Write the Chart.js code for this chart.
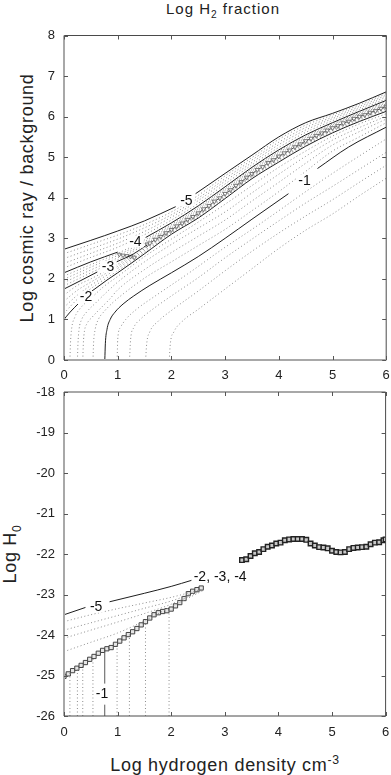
<!DOCTYPE html>
<html>
<head>
<meta charset="utf-8">
<script src="https://cdn.jsdelivr.net/npm/chart.js@4.4.1/dist/chart.umd.min.js"></script>
<style>
  body { margin: 0; background: #fff; width: 391px; height: 775px; position: relative; overflow: hidden;
         font-family: "Liberation Sans", Arial, sans-serif; color: #222; }
  canvas { position: absolute; left: 0; }
  #top { top: 0; }
  #bot { top: 382px; }
  .t { position: absolute; white-space: nowrap; }
  sub, sup { font-size: 68%; line-height: 0; }
  #title { left: 0; width: 446px; top: 0; text-align: center; font-size: 15px; line-height: 18px; letter-spacing: 1px; }
  #xtitle { left: 0; width: 450px; top: 755px; text-align: center; font-size: 18px; line-height: 20px; letter-spacing: 0.7px; }
  .ytitle { font-size: 18px; line-height: 20px; letter-spacing: 0.7px; transform: translate(-50%, -50%) rotate(-90deg); }
  #ytop { left: 27px; top: 198px; }
  #ybot { left: 10px; top: 554px; }
</style>
</head>
<body>
<div class="t" id="title">Log H<sub>2</sub> fraction</div>
<div class="t ytitle" id="ytop">Log cosmic ray / background</div>
<div class="t ytitle" id="ybot">Log H<sub>0</sub></div>
<div class="t" id="xtitle">Log hydrogen density cm<sup>-3</sup></div>
<canvas id="top" width="391" height="382"></canvas>
<canvas id="bot" width="391" height="393"></canvas>
<script>
const FONT = '"Liberation Sans", Arial, Helvetica, sans-serif';

const xRange = [0, 6];
const topYRange = [0, 8];
const botYRange = [-26, -18];

// ---- top panel: contours of log H2 fraction (x = log n, y = log CR) ----
const topM5 = [[0,2.73],[0.5,2.95],[1,3.18],[1.5,3.43],[2.08,3.78],[2.2,null],[2.45,4.1],[3,4.6],[3.5,5.05],[4,5.5],[4.5,5.85],[5,6.08],[5.5,6.33],[6,6.61]];
const topM4 = [[0,2.15],[0.5,2.42],[1.0,2.66],[1.2,null],[1.52,3.02],[2,3.38],[2.5,3.8],[3,4.27],[3.5,4.75],[4,5.18],[4.5,5.55],[5,5.85],[5.5,6.13],[6,6.4]];
const topM3 = [[0,1.75],[0.3,1.95],[0.62,2.17],[0.8,null],[0.98,2.42],[1.3,2.62],[1.55,2.84]];
const topM2 = [[0,1.0],[0.1,1.16],[0.2,1.3],[0.26,1.38],[0.4,null],[0.52,1.7],[0.8,1.97],[1,2.15],[1.5,2.62],[2,3.1],[2.5,3.5],[3,3.98],[3.5,4.47],[4,4.88],[4.5,5.27],[5,5.6],[5.5,5.88],[6,6.13]];
const topM1 = [[0.76,0],[0.77,0.4],[0.8,0.75],[0.86,1.0],[0.95,1.18],[1.1,1.38],[1.3,1.58],[1.6,1.84],[2,2.15],[2.5,2.55],[3,3.0],[3.5,3.47],[4.18,4.1],[4.45,null],[4.72,4.72],[5.3,5.25],[6,5.74]];

const topM08 = [[0.99,0],[1.0,0.5],[1.05,0.8],[1.15,1.0],[1.35,1.25],[1.7,1.58],[2.3,2.12],[3,2.78],[3.5,3.22],[4,3.68],[4.5,4.15],[5,4.6],[5.5,5.03],[6,5.45]];
const topM06 = [[1.22,0],[1.24,0.5],[1.3,0.8],[1.42,1.0],[1.65,1.25],[2,1.58],[2.5,2.03],[3,2.52],[3.5,2.98],[4,3.43],[4.5,3.87],[5,4.28],[5.5,4.7],[6,5.12]];
const topM04 = [[1.52,0],[1.54,0.4],[1.6,0.7],[1.75,0.95],[2,1.22],[2.5,1.7],[3,2.2],[3.5,2.68],[4,3.13],[4.5,3.55],[5,3.95],[5.5,4.38],[6,4.8]];
const topM02 = [[1.96,0],[1.98,0.4],[2.05,0.7],[2.2,0.95],[2.5,1.25],[3,1.75],[3.5,2.25],[4,2.75],[4.5,3.2],[5,3.6],[5.5,4.05],[6,4.48]];

const topM12 = [[0.54,0],[0.55,0.4],[0.58,0.75],[0.64,1.0],[0.75,1.2],[0.88,1.38],[1,1.52],[1.5,2.02],[2,2.42],[2.5,2.82],[3,3.22],[3.5,3.68],[4,4.15],[4.5,4.65],[5,5.15],[5.5,5.5],[6,5.85]];
const topM14 = [[0.35,0],[0.36,0.4],[0.38,0.7],[0.43,0.9],[0.52,1.05],[0.7,1.3],[0.85,1.5],[1,1.73],[1.5,2.23],[2,2.65],[2.5,3.05],[3,3.45],[3.5,3.92],[4,4.38],[4.5,4.85],[5,5.3],[5.5,5.63],[6,5.94]];
const topM16 = [[0.25,0],[0.26,0.4],[0.28,0.75],[0.33,1.0],[0.42,1.18],[0.6,1.42],[0.8,1.68],[1,1.92],[1.5,2.42],[2,2.85],[2.5,3.25],[3,3.65],[3.5,4.12],[4,4.58],[4.5,5.02],[5,5.42],[5.5,5.73],[6,6.01]];
const topM18 = [[0.11,0],[0.12,0.4],[0.14,0.75],[0.2,1.05],[0.3,1.27],[0.5,1.52],[0.75,1.82],[1,2.06],[1.5,2.55],[2,2.98],[2.5,3.4],[3,3.84],[3.5,4.3],[4,4.75],[4.5,5.15],[5,5.52],[5.5,5.82],[6,6.07]];

const topM22 = [[0,1.15],[0.25,1.5],[0.5,1.76],[1,2.2],[1.5,2.66],[2,3.13],[2.5,3.53],[3,4.01],[3.5,4.5],[4,4.91],[4.5,5.3],[5,5.63],[5.5,5.91],[6,6.16]];
const topM24 = [[0,1.3],[0.25,1.6],[0.5,1.84],[1,2.26],[1.5,2.7],[2,3.16],[2.5,3.56],[3,4.04],[3.5,4.53],[4,4.94],[4.5,5.33],[5,5.66],[5.5,5.94],[6,6.19]];
const topM26 = [[0,1.45],[0.25,1.72],[0.5,1.92],[1,2.31],[1.5,2.74],[2,3.18],[2.5,3.58],[3,4.06],[3.5,4.55],[4,4.97],[4.5,5.35],[5,5.68],[5.5,5.96],[6,6.21]];
const topM28 = [[0,1.6],[0.25,1.84],[0.5,2.0],[1,2.36],[1.5,2.77],[2,3.2],[2.5,3.6],[3,4.08],[3.5,4.58],[4,5.0],[4.5,5.37],[5,5.7],[5.5,5.98],[6,6.23]];

const topM32 = [[0,1.83],[0.5,2.15],[1,2.47],[1.5,2.84],[2,3.25],[2.5,3.66],[3,4.14],[3.5,4.63],[4,5.05],[4.5,5.43],[5,5.75],[5.5,6.03],[6,6.28]];
const topM34 = [[0,1.91],[0.5,2.22],[1,2.52],[1.5,2.88],[2,3.28],[2.5,3.7],[3,4.18],[3.5,4.66],[4,5.09],[4.5,5.46],[5,5.78],[5.5,6.06],[6,6.31]];
const topM36 = [[0,1.99],[0.5,2.29],[1,2.58],[1.5,2.92],[2,3.31],[2.5,3.73],[3,4.21],[3.5,4.69],[4,5.12],[4.5,5.49],[5,5.8],[5.5,6.08],[6,6.34]];
const topM38 = [[0,2.07],[0.5,2.35],[1,2.63],[1.5,2.96],[2,3.34],[2.5,3.76],[3,4.24],[3.5,4.72],[4,5.15],[4.5,5.52],[5,5.82],[5.5,6.1],[6,6.37]];

const topM42 = [[0,2.27],[0.5,2.53],[1,2.78],[1.5,3.09],[2,3.45],[2.5,3.86],[3,4.34],[3.5,4.81],[4,5.24],[4.5,5.61],[5,5.9],[5.5,6.17],[6,6.44]];
const topM44 = [[0,2.38],[0.5,2.63],[1,2.88],[1.5,3.17],[2,3.52],[2.5,3.93],[3,4.41],[3.5,4.87],[4,5.31],[4.5,5.67],[5,5.95],[5.5,6.21],[6,6.49]];
const topM46 = [[0,2.5],[0.5,2.74],[1,2.98],[1.5,3.26],[2,3.58],[2.5,3.99],[3,4.47],[3.5,4.93],[4,5.37],[4.5,5.73],[5,5.99],[5.5,6.25],[6,6.53]];
const topM48 = [[0,2.62],[0.5,2.85],[1,3.08],[1.5,3.34],[2,3.65],[2.5,4.06],[3,4.54],[3.5,4.99],[4,5.44],[4.5,5.79],[5,6.04],[5.5,6.29],[6,6.57]];

// boundary of the two-solution region (open markers)
const topBand = [[1.55,2.85],[1.6,2.88],[1.7,2.97],[1.8,3.04],[1.9,3.13],[2.0,3.21],[2.1,3.3],[2.2,3.37],[2.3,3.46],[2.4,3.53],[2.5,3.62],[2.6,3.72],[2.7,3.8],[2.8,3.91],[2.9,3.99],[3.0,4.1],[3.1,4.19],[3.2,4.3],[3.3,4.39],[3.4,4.5],[3.5,4.59],[3.6,4.69],[3.7,4.76],[3.8,4.86],[3.9,4.93],[4.0,5.02],[4.1,5.1],[4.2,5.17],[4.3,5.25],[4.4,5.32],[4.5,5.4],[4.6,5.46],[4.7,5.53],[4.8,5.59],[4.9,5.66],[5.0,5.72],[5.1,5.77],[5.2,5.84],[5.3,5.88],[5.4,5.95],[5.5,6.0],[5.6,6.04],[5.7,6.1],[5.8,6.14],[5.9,6.2],[6.0,6.25]];
const topBandBit = [[1.03,2.6],[1.1,2.58],[1.17,2.57],[1.24,2.55],[1.31,2.53]];

const topLabels = [
  { text: '-5', x: 2.28, y: 3.94 },
  { text: '-4', x: 1.33, y: 2.92 },
  { text: '-3', x: 0.82, y: 2.3 },
  { text: '-2', x: 0.41, y: 1.55 },
  { text: '-1', x: 4.48, y: 4.42 }
];

// ---- bottom panel: log H0 ----
const botM5 = [[0,-23.5],[0.4,-23.32],[0.6,null],[0.85,-23.18],[1.5,-22.97],[2,-22.8],[2.38,-22.65]];
const botD1 = [[0,-23.67],[0.5,-23.5],[1,-23.35],[1.5,-23.21],[2,-23.07],[2.6,-22.86]];
const botD2 = [[0,-23.88],[0.5,-23.7],[1,-23.52],[1.5,-23.34],[2,-23.16],[2.6,-22.87]];
const botD3 = [[0,-24.08],[0.5,-23.88],[1,-23.68],[1.5,-23.47],[2,-23.24],[2.6,-22.88]];
const botD4 = [[0,-24.41],[0.5,-24.18],[1,-23.95],[1.5,-23.65],[2,-23.3],[2.6,-22.9]];
const botM1 = [[0.76,-26],[0.76,-25.72],[0.76,null],[0.76,-25.2],[0.76,-24.36]];
const botVertX = [0.11, 0.25, 0.35, 0.54, 0.99, 1.22, 1.52, 1.96];
const botVertTop = [-24.93, -24.81, -24.72, -24.55, -24.2, -23.97, -23.67, -23.38];

const botBandLeft = [[0,-25.02],[0.08,-24.96],[0.16,-24.88],[0.24,-24.82],[0.32,-24.75],[0.4,-24.68],[0.48,-24.6],[0.56,-24.53],[0.64,-24.45],[0.72,-24.38],[0.8,-24.34],[0.88,-24.31],[0.96,-24.23],[1.04,-24.15],[1.12,-24.07],[1.2,-23.99],[1.28,-23.92],[1.36,-23.84],[1.44,-23.75],[1.52,-23.67],[1.6,-23.58],[1.68,-23.5],[1.76,-23.45],[1.84,-23.42],[1.92,-23.4],[2.0,-23.36],[2.08,-23.28],[2.16,-23.2],[2.24,-23.1],[2.32,-22.98],[2.4,-22.92],[2.48,-22.88],[2.56,-22.84]];
const botBandRight = [[3.32,-22.15],[3.4,-22.13],[3.48,-22.05],[3.56,-21.98],[3.64,-21.95],[3.72,-21.88],[3.8,-21.82],[3.88,-21.79],[3.96,-21.74],[4.04,-21.72],[4.12,-21.66],[4.2,-21.64],[4.28,-21.63],[4.36,-21.63],[4.44,-21.63],[4.52,-21.65],[4.6,-21.74],[4.68,-21.79],[4.76,-21.83],[4.84,-21.84],[4.92,-21.86],[5.0,-21.92],[5.08,-21.95],[5.16,-21.96],[5.24,-21.95],[5.32,-21.88],[5.4,-21.85],[5.48,-21.84],[5.56,-21.83],[5.64,-21.82],[5.72,-21.76],[5.8,-21.72],[5.88,-21.71],[5.96,-21.66],[6.0,-21.64]];

const botLabels = [
  { text: '-5', x: 0.6, y: -23.3 },
  { text: '-1', x: 0.71, y: -25.45 },
  { text: '-2, -3, -4', x: 2.42, y: -22.56, align: 'left' }
];

Chart.defaults.font.family = FONT;

const pts = arr => arr.map(([x, y]) => ({ x, y }));

const solid = (arr, color) => ({
  data: pts(arr), showLine: true, borderColor: color || '#1e1e1e', borderWidth: 1,
  pointRadius: 0, cubicInterpolationMode: 'monotone'
});
const dotted = arr => ({
  data: pts(arr), showLine: true, borderColor: '#8c8c8c', borderWidth: 1, borderDash: [1, 2.5],
  pointRadius: 0, cubicInterpolationMode: 'monotone'
});
const straightDotted = arr => ({
  data: pts(arr), showLine: true, borderColor: '#8c8c8c', borderWidth: 1, borderDash: [1, 2.5],
  pointRadius: 0, tension: 0
});
const marks = (arr, opt) => ({
  data: pts(arr), showLine: true, borderColor: '#444', borderWidth: 1, tension: 0,
  pointStyle: 'rect', pointRadius: 3, pointBorderWidth: 1, pointBorderColor: '#333',
  pointBackgroundColor: '#ddd', ...opt
});

// frame with inward ticks; some sides drawn as wide grey axes like the original
const framePlugin = {
  id: 'frame',
  afterDraw(chart, args, opts) {
    const { ctx, chartArea: a, scales: { x, y } } = chart;
    ctx.save();
    const side = (name, x0, y0, x1, y1) => {
      const grey = opts.grey.includes(name);
      ctx.strokeStyle = grey ? '#a8a8a8' : '#4a4a4a';
      ctx.lineWidth = grey ? 2 : 1;
      ctx.beginPath(); ctx.moveTo(x0, y0); ctx.lineTo(x1, y1); ctx.stroke();
    };
    side('top', a.left, a.top, a.right, a.top);
    side('right', a.right, a.top, a.right, a.bottom);
    side('bottom', a.left, a.bottom, a.right, a.bottom);
    side('left', a.left, a.top, a.left, a.bottom);
    ctx.strokeStyle = '#555';
    ctx.lineWidth = 1;
    ctx.beginPath();
    x.ticks.forEach(t => {
      const px = Math.round(x.getPixelForValue(t.value)) + 0.5;
      ctx.moveTo(px, a.top); ctx.lineTo(px, a.top + 4);
      ctx.moveTo(px, a.bottom); ctx.lineTo(px, a.bottom - 4);
    });
    y.ticks.forEach(t => {
      const py = Math.round(y.getPixelForValue(t.value)) + 0.5;
      ctx.moveTo(a.left, py); ctx.lineTo(a.left + 4, py);
      ctx.moveTo(a.right, py); ctx.lineTo(a.right - 4, py);
    });
    ctx.stroke();
    ctx.restore();
  }
};

// contour level labels, with a white patch behind like the original
const labelPlugin = {
  id: 'levels',
  afterDatasetsDraw(chart, args, opts) {
    const { ctx, scales: { x, y } } = chart;
    ctx.save();
    ctx.font = '14px ' + FONT;
    ctx.textBaseline = 'middle';
    opts.items.forEach(item => {
      const align = item.align || 'center';
      const px = x.getPixelForValue(item.x);
      const py = y.getPixelForValue(item.y);
      const w = ctx.measureText(item.text).width;
      const left = align === 'left' ? px : px - w / 2;
      ctx.fillStyle = '#fff';
      ctx.fillRect(left - 2, py - 6, w + 4, 12);
      ctx.fillStyle = '#111';
      ctx.textAlign = align;
      ctx.fillText(item.text, px, py + 0.5);
    });
    ctx.restore();
  }
};

function scalesFor(yRange, xHeight, tickPad) {
  const tickFont = { size: 13, family: FONT };
  return {
    x: {
      type: 'linear', min: xRange[0], max: xRange[1],
      ticks: { stepSize: 1, padding: tickPad, color: '#222', font: tickFont },
      grid: { display: false, drawTicks: false }, border: { display: false },
      afterFit(s) { s.height = xHeight; s.paddingLeft = 0; s.paddingRight = 0; }
    },
    y: {
      type: 'linear', min: yRange[0], max: yRange[1],
      ticks: { stepSize: 1, padding: 9, color: '#222', font: tickFont },
      grid: { display: false, drawTicks: false }, border: { display: false },
      afterFit(s) { s.width = 64; s.paddingTop = 0; s.paddingBottom = 0; }
    }
  };
}

const common = {
  responsive: false, animation: false, devicePixelRatio: 1, events: []
};

const topChart = new Chart(document.getElementById('top').getContext('2d'), {
  type: 'scatter',
  data: {
    datasets: [
      dotted(topM42), dotted(topM44), dotted(topM46), dotted(topM48),
      dotted(topM32), dotted(topM34), dotted(topM36), dotted(topM38),
      dotted(topM22), dotted(topM24), dotted(topM26), dotted(topM28),
      dotted(topM12), dotted(topM14), dotted(topM16), dotted(topM18),
      dotted(topM08), dotted(topM06), dotted(topM04), dotted(topM02),
      solid(topM5), solid(topM4), solid(topM3), solid(topM2), solid(topM1),
      marks(topBand, { pointStyle: 'triangle', rotation: 180, pointRadius: 2.6, pointBorderWidth: 0.8,
                       pointBorderColor: '#555', pointBackgroundColor: '#fff', borderColor: '#555' }),
      marks(topBandBit, { pointStyle: 'triangle', rotation: 180, pointRadius: 2.4, pointBorderWidth: 0.8,
                          pointBorderColor: '#666', pointBackgroundColor: '#fff', borderColor: '#666' })
    ]
  },
  options: {
    ...common,
    layout: { padding: { top: 35.5, right: 3, bottom: 0, left: 0 } },
    scales: scalesFor(topYRange, 22, 8),
    plugins: {
      legend: { display: false }, tooltip: { enabled: false },
      frame: { grey: ['left', 'bottom'] },
      levels: { items: topLabels }
    }
  },
  plugins: [framePlugin, labelPlugin]
});

const botDatasets = [dotted(botD1), dotted(botD2), dotted(botD3), dotted(botD4)];
botVertX.forEach((vx, i) => botDatasets.push(straightDotted([[vx, botYRange[0]], [vx, botVertTop[i]]])));
botDatasets.push(
  solid(botM5),
  { ...solid(botM1, '#5a5a5a'), cubicInterpolationMode: 'default', tension: 0 },
  marks(botBandLeft, { pointRadius: 3, pointBorderColor: '#444', pointBackgroundColor: '#e6e6e6', pointBorderWidth: 1 }),
  marks(botBandRight, { pointRadius: 3.2, pointBorderColor: '#222', pointBackgroundColor: '#c8c8c8', pointBorderWidth: 1.4, borderColor: '#222', borderWidth: 1.5 })
);

const botChart = new Chart(document.getElementById('bot').getContext('2d'), {
  type: 'scatter',
  data: { datasets: botDatasets },
  options: {
    ...common,
    layout: { padding: { top: 10, right: 3, bottom: 0, left: 0 } },
    scales: scalesFor(botYRange, 59, 9),
    plugins: {
      legend: { display: false }, tooltip: { enabled: false },
      frame: { grey: ['left', 'top'] },
      levels: { items: botLabels }
    }
  },
  plugins: [framePlugin, labelPlugin]
});
</script>
</body>
</html>
